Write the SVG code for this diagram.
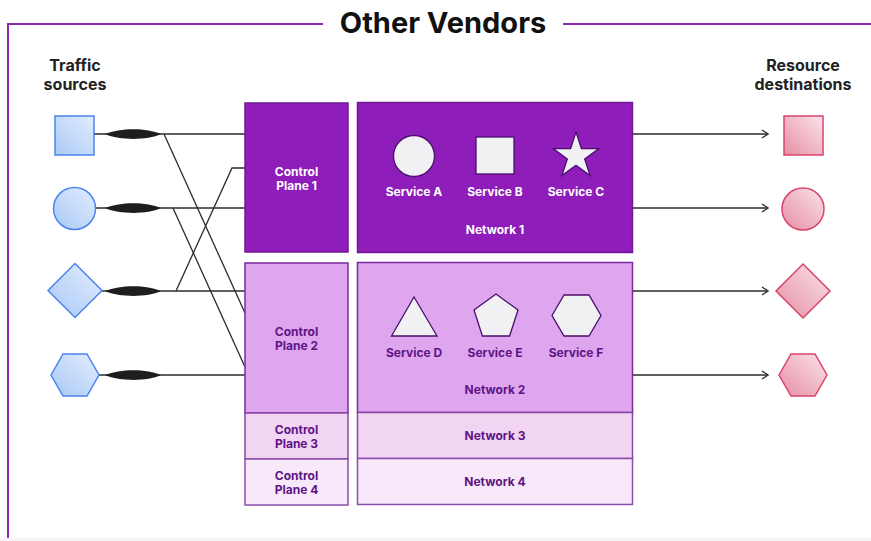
<svg xmlns="http://www.w3.org/2000/svg" width="871" height="541" viewBox="0 0 871 541">
<defs>
<linearGradient id="gBlue" x1="1" y1="0" x2="0" y2="1">
<stop offset="0" stop-color="#e3edfd"/>
<stop offset="1" stop-color="#a8c8f6"/>
</linearGradient>
<linearGradient id="gPink" x1="1" y1="0" x2="0" y2="1">
<stop offset="0" stop-color="#fbe3ea"/>
<stop offset="1" stop-color="#e58ea3"/>
</linearGradient>
<marker id="arr" viewBox="0 0 10 10" refX="9" refY="5" markerWidth="10" markerHeight="10" markerUnits="userSpaceOnUse" orient="auto">
<path d="M3,1 L9,5 L3,9" fill="none" stroke="#333" stroke-width="1.4"/>
</marker>
<path id="lens" d="M0,0 C15,-6.5 42,-6.5 56,0 C42,6.5 15,6.5 0,0 Z"/>
</defs>
<style>
text{font-family:Inter,"Liberation Sans",Arial,sans-serif;font-weight:700;text-anchor:middle}
.hdr{font-size:16px;fill:#222}
.title{font-size:29px;fill:#111}
.lbl{font-size:12px}
.w{fill:#ffffff}
.d{fill:#5e1485}
.src{fill:url(#gBlue);stroke:#4a84ec;stroke-width:1.5}
.dst{fill:url(#gPink);stroke:#d8456a;stroke-width:1.5}
.svc{fill:#f1f1f3;stroke:#4a0f6e;stroke-width:1.3}
.c1{fill:#8e1db9;stroke:#6f1a92;stroke-width:1.5}
.c2{fill:#dea6ef;stroke:#7a2a9c;stroke-width:1.5}
.c3{fill:#f1d5f2;stroke:#8a47a8;stroke-width:1.5}
.c4{fill:#f7e9f9;stroke:#8a4fac;stroke-width:1.5}
.ln{fill:none;stroke:#2b2b2b;stroke-width:1.3}
.frame{fill:none;stroke:#8c2bb0;stroke-width:2}
</style>
<rect x="0" y="0" width="871" height="541" fill="#ffffff"/>
<rect x="0" y="538" width="871" height="3" fill="#f5f5f5"/>
<g id="frame">
<path class="frame" d="M323,24 H8 V538"/>
<path class="frame" d="M563,24 H871"/>
<text class="title" x="443" y="33">Other Vendors</text>
</g>
<g id="headers">
<text class="hdr" x="75" y="71">Traffic</text>
<text class="hdr" x="75" y="90">sources</text>
<text class="hdr" x="803" y="71">Resource</text>
<text class="hdr" x="803" y="90">destinations</text>
</g>
<g id="connectors">
<line class="ln" x1="94" y1="134" x2="245" y2="134"/>
<line class="ln" x1="95" y1="208" x2="245" y2="208"/>
<line class="ln" x1="102" y1="291" x2="245" y2="291"/>
<line class="ln" x1="99" y1="375" x2="245" y2="375"/>
<line class="ln" x1="164" y1="134" x2="245" y2="313"/>
<line class="ln" x1="173" y1="208" x2="245" y2="367"/>
<polyline class="ln" points="176,291 232,168 245,168"/>
<use href="#lens" x="105" y="134" fill="#1e1e1e"/>
<use href="#lens" x="105" y="208" fill="#1e1e1e"/>
<use href="#lens" x="105" y="291" fill="#1e1e1e"/>
<use href="#lens" x="105" y="375" fill="#1e1e1e"/>
<line class="ln" x1="633" y1="134" x2="768" y2="134" marker-end="url(#arr)"/>
<line class="ln" x1="633" y1="208" x2="768" y2="208" marker-end="url(#arr)"/>
<line class="ln" x1="633" y1="291" x2="768" y2="291" marker-end="url(#arr)"/>
<line class="ln" x1="633" y1="375" x2="768" y2="375" marker-end="url(#arr)"/>
</g>
<g id="src-square"><rect class="src" x="55" y="116" width="39" height="39"/></g>
<g id="src-circle"><circle class="src" cx="74.5" cy="208.5" r="21"/></g>
<g id="src-diamond"><polygon class="src" points="75,263.5 102,290.5 75,317.5 48,290.5"/></g>
<g id="src-hexagon"><polygon class="src" points="51,375 63,354 87,354 99,375 87,396 63,396"/></g>
<g id="cp1"><rect class="c1" x="245" y="103" width="103" height="149"/>
<text class="lbl w" x="296.5" y="176">Control</text><text class="lbl w" x="296.5" y="190">Plane 1</text></g>
<g id="cp2"><rect class="c2" x="245" y="263" width="103" height="150"/>
<text class="lbl d" x="296.5" y="336">Control</text><text class="lbl d" x="296.5" y="350">Plane 2</text></g>
<g id="cp3"><rect class="c3" x="245" y="413" width="103" height="46"/>
<text class="lbl d" x="296.5" y="434">Control</text><text class="lbl d" x="296.5" y="448">Plane 3</text></g>
<g id="cp4"><rect class="c4" x="245" y="459" width="103" height="46"/>
<text class="lbl d" x="296.5" y="480">Control</text><text class="lbl d" x="296.5" y="494">Plane 4</text></g>
<g id="net1"><rect class="c1" x="357.5" y="102.5" width="275" height="150"/>
<circle class="svc" cx="414" cy="156" r="20.5"/>
<rect class="svc" x="476" y="137" width="38" height="37"/>
<polygon class="svc" points="576,132 581.4,148.6 598.9,148.6 584.7,158.9 590.1,175.5 576,165.3 561.9,175.5 567.3,158.9 553.1,148.6 570.6,148.6"/>
<text class="lbl w" x="414" y="196">Service A</text>
<text class="lbl w" x="495" y="196">Service B</text>
<text class="lbl w" x="576" y="196">Service C</text>
<text class="lbl w" x="495" y="234">Network 1</text></g>
<g id="net2"><rect class="c2" x="357.5" y="262.5" width="275" height="150"/>
<polygon class="svc" points="414,297 437,336 391.5,336"/>
<polygon class="svc" points="496,294 518,310 509.6,336 482.4,336 474,310"/>
<polygon class="svc" points="552,315.5 564,295 589,295 601,315.5 589,336 564,336"/>
<text class="lbl d" x="414" y="357">Service D</text>
<text class="lbl d" x="495" y="357">Service E</text>
<text class="lbl d" x="576" y="357">Service F</text>
<text class="lbl d" x="495" y="394">Network 2</text></g>
<g id="net3"><rect class="c3" x="357.5" y="412.5" width="275" height="46"/>
<text class="lbl d" x="495" y="440">Network 3</text></g>
<g id="net4"><rect class="c4" x="357.5" y="458.5" width="275" height="46"/>
<text class="lbl d" x="495" y="486">Network 4</text></g>
<g id="dst-square"><rect class="dst" x="784" y="116" width="39" height="39"/></g>
<g id="dst-circle"><circle class="dst" cx="803" cy="209" r="21"/></g>
<g id="dst-diamond"><polygon class="dst" points="803,264 830,291 803,318 776,291"/></g>
<g id="dst-hexagon"><polygon class="dst" points="779,375 791,354 815,354 827,375 815,396 791,396"/></g>
</svg>
